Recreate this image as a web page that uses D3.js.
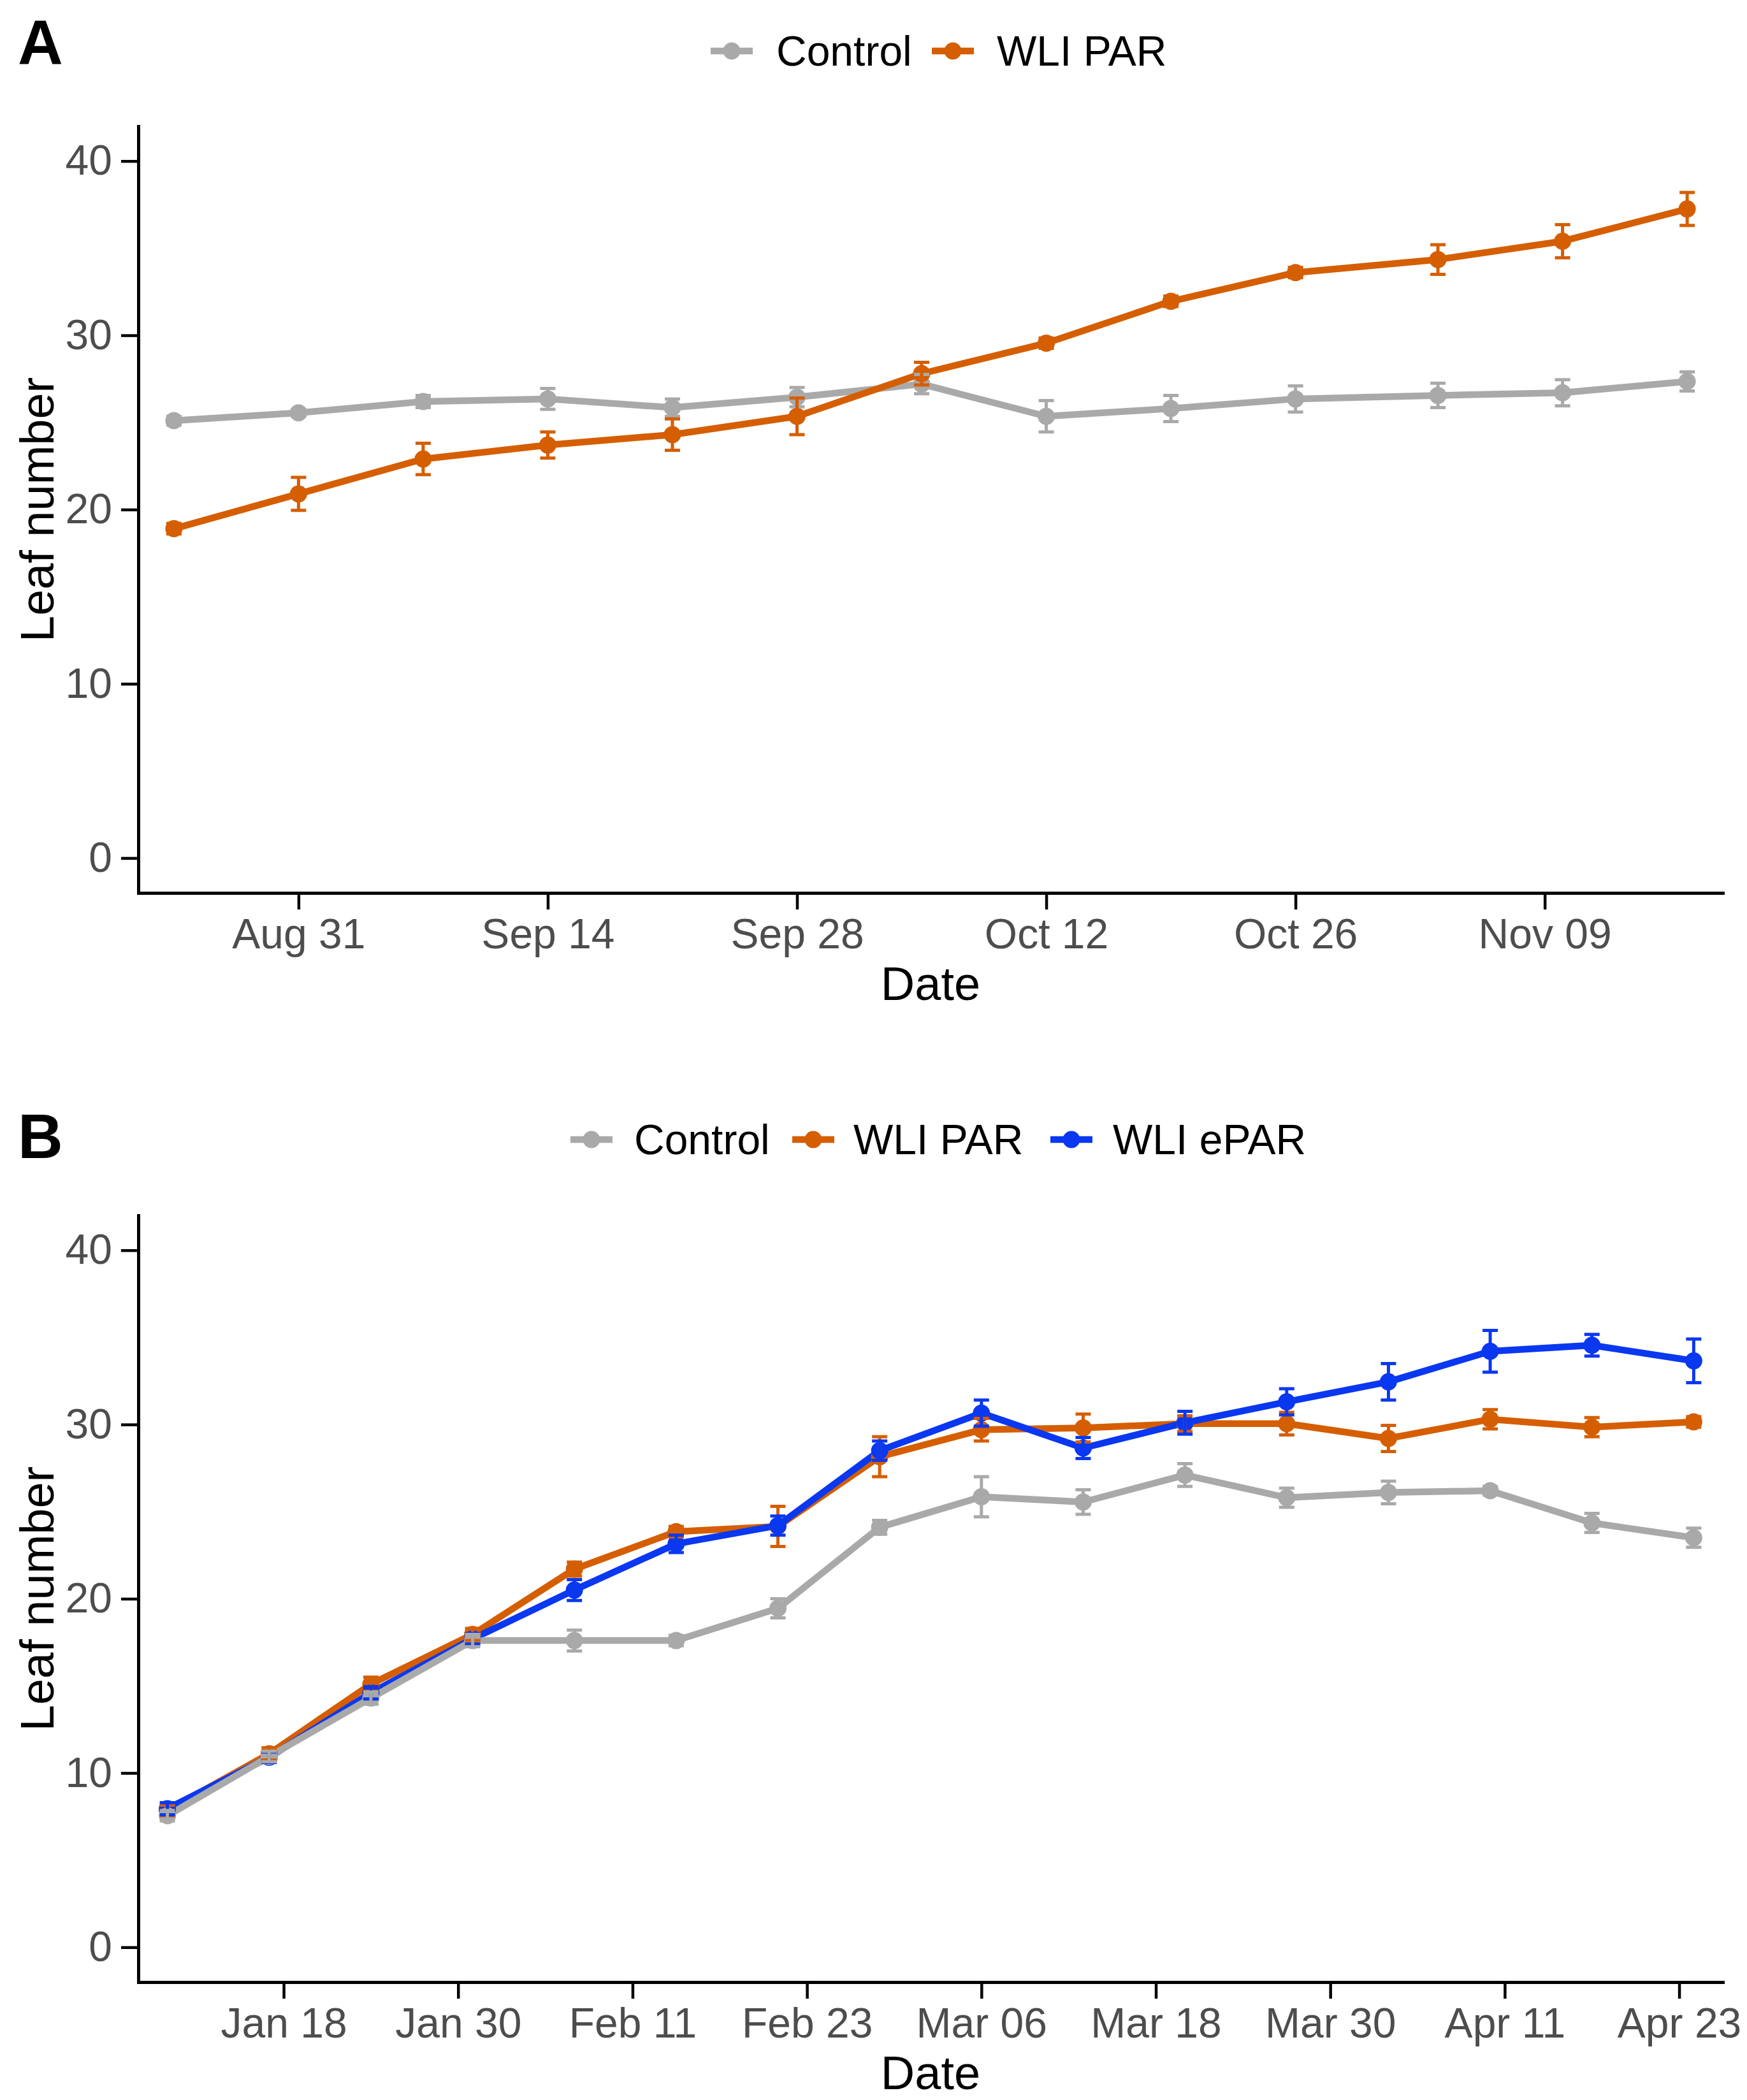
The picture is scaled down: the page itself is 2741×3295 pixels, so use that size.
<!DOCTYPE html>
<html>
<head>
<meta charset="utf-8">
<script src="https://cdn.jsdelivr.net/npm/d3@7"></script>
<style>
  html, body { margin: 0; padding: 0; background: #ffffff; }
  svg { display: block; }
  text { font-family: "Liberation Sans", Arial, Helvetica, sans-serif; }
</style>
</head>
<body>
<svg id="chart" width="2741" height="3295"></svg>
<script>
// ---------------- DATA ----------------
const seriesNamesA = ["Control", "WLI PAR"];
const seriesNamesB = ["Control", "WLI PAR", "WLI ePAR"];

// Panel A (one season, Aug-Nov)
const datesA = ["2019-08-24","2019-08-31","2019-09-07","2019-09-14","2019-09-21","2019-09-28",
                "2019-10-05","2019-10-12","2019-10-19","2019-10-26","2019-11-03","2019-11-10","2019-11-17"];
const controlA   = [25.1, 25.55, 26.2, 26.35, 25.85, 26.45, 27.2, 25.35, 25.8, 26.35, 26.55, 26.7, 27.35];
const controlSeA = [0.25, 0.2, 0.35, 0.6, 0.5, 0.55, 0.55, 0.9, 0.75, 0.75, 0.7, 0.75, 0.55];
const parA       = [18.9, 20.9, 22.9, 23.7, 24.3, 25.35, 27.8, 29.55, 31.95, 33.6, 34.35, 35.4, 37.25];
const parSeA     = [0.3, 0.95, 0.9, 0.75, 0.9, 1.05, 0.65, 0.3, 0.3, 0.3, 0.85, 0.95, 0.95];
const xTicksA    = ["2019-08-31","2019-09-14","2019-09-28","2019-10-12","2019-10-26","2019-11-09"];
const xDomainA   = ["2019-08-22","2019-11-19"];

// Panel B (Jan-Apr)
const datesB = ["2020-01-10","2020-01-17","2020-01-24","2020-01-31","2020-02-07","2020-02-14","2020-02-21","2020-02-28",
                "2020-03-06","2020-03-13","2020-03-20","2020-03-27","2020-04-03","2020-04-10","2020-04-17","2020-04-24"];
const controlB   = [7.55, 10.95, 14.3, 17.6, 17.6, 17.6, 19.45, 24.1, 25.85, 25.55, 27.1, 25.8, 26.1, 26.2, 24.35, 23.5];
const controlSeB = [0.3, 0.3, 0.35, 0.35, 0.6, 0.3, 0.55, 0.4, 1.15, 0.7, 0.65, 0.55, 0.65, 0.25, 0.55, 0.55];
const parB       = [7.85, 11.1, 15.1, 17.95, 21.7, 23.85, 24.15, 28.15, 29.7, 29.8, 30.05, 30.05, 29.2, 30.3, 29.85, 30.15];
const parSeB     = [0.3, 0.35, 0.4, 0.35, 0.4, 0.3, 1.15, 1.15, 0.65, 0.8, 0.45, 0.65, 0.75, 0.55, 0.55, 0.3];
const eparB      = [7.95, 10.9, 14.6, 17.7, 20.5, 23.15, 24.2, 28.5, 30.65, 28.65, 30.1, 31.3, 32.45, 34.2, 34.55, 33.65];
const eparSeB    = [0.35, 0.3, 0.35, 0.3, 0.6, 0.5, 0.55, 0.55, 0.75, 0.6, 0.65, 0.75, 1.05, 1.2, 0.62, 1.25];
const xTicksB    = ["2020-01-18","2020-01-30","2020-02-11","2020-02-23","2020-03-06","2020-03-18",
                    "2020-03-30","2020-04-11","2020-04-23"];
const xDomainB   = ["2020-01-08","2020-04-26"];

const yTicks  = [0, 10, 20, 30, 40];
const yDomain = [-2, 42];

// ---------------- STYLE ----------------
const colors = { "Control": "#A9A9A9", "WLI PAR": "#D55E00", "WLI ePAR": "#0A38F0" };
const FONT = '"Liberation Sans", Arial, Helvetica, sans-serif';

const parse = d3.timeParse("%Y-%m-%d");
const fmt = d3.timeFormat("%b %d");
const svg = d3.select("#chart");
svg.append("rect").attr("width", 2741).attr("height", 3295).attr("fill", "#fff");

const left = 217, right = 2703;
const LW = 10.5, PR = 13.5, EW = 5;

function drawPanel(cfg) {
  const g = svg.append("g");
  const x = d3.scaleTime().domain(cfg.xDomain.map(parse)).range([left, right]);
  const y = d3.scaleLinear().domain(yDomain).range([cfg.bottom, cfg.top]);

  const series = cfg.series.map(s => ({
    name: s.name,
    color: colors[s.name],
    pts: cfg.dates.map((d, i) => ({ date: parse(d), v: s.values[i], se: s.se[i] }))
  }));
  const order = cfg.drawOrder.map(n => series.find(s => s.name === n));

  const line = d3.line().x(d => x(d.date)).y(d => y(d.v));

  order.forEach(s => {
    g.append("path").datum(s.pts)
      .attr("d", line).attr("fill", "none")
      .attr("stroke", s.color).attr("stroke-width", LW)
      .attr("stroke-linejoin", "round").attr("stroke-linecap", "butt");
  });
  order.forEach(s => {
    g.append("g").selectAll("circle").data(s.pts).join("circle")
      .attr("cx", d => x(d.date)).attr("cy", d => y(d.v)).attr("r", PR)
      .attr("fill", s.color);
  });
  const capW = 12;
  order.forEach(s => {
    const eg = g.append("g").attr("stroke", s.color).attr("stroke-width", EW).attr("fill", "none");
    eg.selectAll("path").data(s.pts).join("path")
      .attr("d", d => {
        const cx = x(d.date), y1 = y(d.v + d.se), y2 = y(d.v - d.se);
        return `M${cx - capW},${y1}H${cx + capW}M${cx},${y1}V${y2}M${cx - capW},${y2}H${cx + capW}`;
      });
  });

  const xAxis = d3.axisBottom(x).tickValues(cfg.xTicks.map(parse)).tickFormat(fmt)
    .tickSize(26).tickSizeOuter(0).tickPadding(14);
  const yAxis = d3.axisLeft(y).tickValues(yTicks).tickFormat(d3.format("d"))
    .tickSize(27).tickSizeOuter(0).tickPadding(14);

  const gx = g.append("g").attr("transform", `translate(0,${cfg.bottom})`).call(xAxis);
  const gy = g.append("g").attr("transform", `translate(${left},0)`).call(yAxis);
  [gx, gy].forEach(a => {
    a.select(".domain").attr("stroke", "#000").attr("stroke-width", 5).attr("stroke-linecap", "square");
    a.selectAll(".tick line").attr("stroke", "#000").attr("stroke-width", 4.5);
    a.selectAll(".tick text").attr("fill", "#4D4D4D").attr("font-size", 66).attr("font-family", FONT);
  });

  g.append("text").attr("x", (left + right) / 2).attr("y", cfg.bottom + 168)
    .attr("text-anchor", "middle").attr("font-size", 74).attr("fill", "#000")
    .attr("font-family", FONT).text("Date");
  g.append("text")
    .attr("transform", `translate(84,${(cfg.top + cfg.bottom) / 2}) rotate(-90)`)
    .attr("text-anchor", "middle").attr("font-size", 74).attr("fill", "#000")
    .attr("font-family", FONT).text("Leaf number");

  g.append("text").attr("x", 28).attr("y", cfg.labelY).attr("font-size", 98)
    .attr("font-weight", "bold").attr("fill", "#000").attr("font-family", FONT).text(cfg.label);

  const lg = g.append("g");
  cfg.legend.forEach(item => {
    const c = colors[item.name];
    const kx = item.keyX, ky = cfg.legendY;
    lg.append("line").attr("x1", kx).attr("x2", kx + 66).attr("y1", ky).attr("y2", ky)
      .attr("stroke", c).attr("stroke-width", LW);
    lg.append("circle").attr("cx", kx + 33).attr("cy", ky).attr("r", PR).attr("fill", c);
    lg.append("text").attr("x", item.textX).attr("y", ky + 23).attr("font-size", 66)
      .attr("fill", "#000").attr("font-family", FONT).text(item.name);
  });
}

drawPanel({
  label: "A", labelY: 100, top: 198, bottom: 1401,
  xDomain: xDomainA, xTicks: xTicksA, dates: datesA,
  series: [
    { name: seriesNamesA[0], values: controlA, se: controlSeA },
    { name: seriesNamesA[1], values: parA, se: parSeA }
  ],
  drawOrder: ["Control", "WLI PAR"],
  legendY: 80,
  legend: [
    { name: seriesNamesA[0], keyX: 1115, textX: 1218 },
    { name: seriesNamesA[1], keyX: 1462, textX: 1564 }
  ]
});

drawPanel({
  label: "B", labelY: 1817, top: 1907, bottom: 3110,
  xDomain: xDomainB, xTicks: xTicksB, dates: datesB,
  series: [
    { name: seriesNamesB[0], values: controlB, se: controlSeB },
    { name: seriesNamesB[1], values: parB, se: parSeB },
    { name: seriesNamesB[2], values: eparB, se: eparSeB }
  ],
  drawOrder: ["WLI PAR", "WLI ePAR", "Control"],
  legendY: 1788,
  legend: [
    { name: seriesNamesB[0], keyX: 895, textX: 995 },
    { name: seriesNamesB[1], keyX: 1243, textX: 1339 },
    { name: seriesNamesB[2], keyX: 1648, textX: 1746 }
  ]
});
</script>
</body>
</html>
